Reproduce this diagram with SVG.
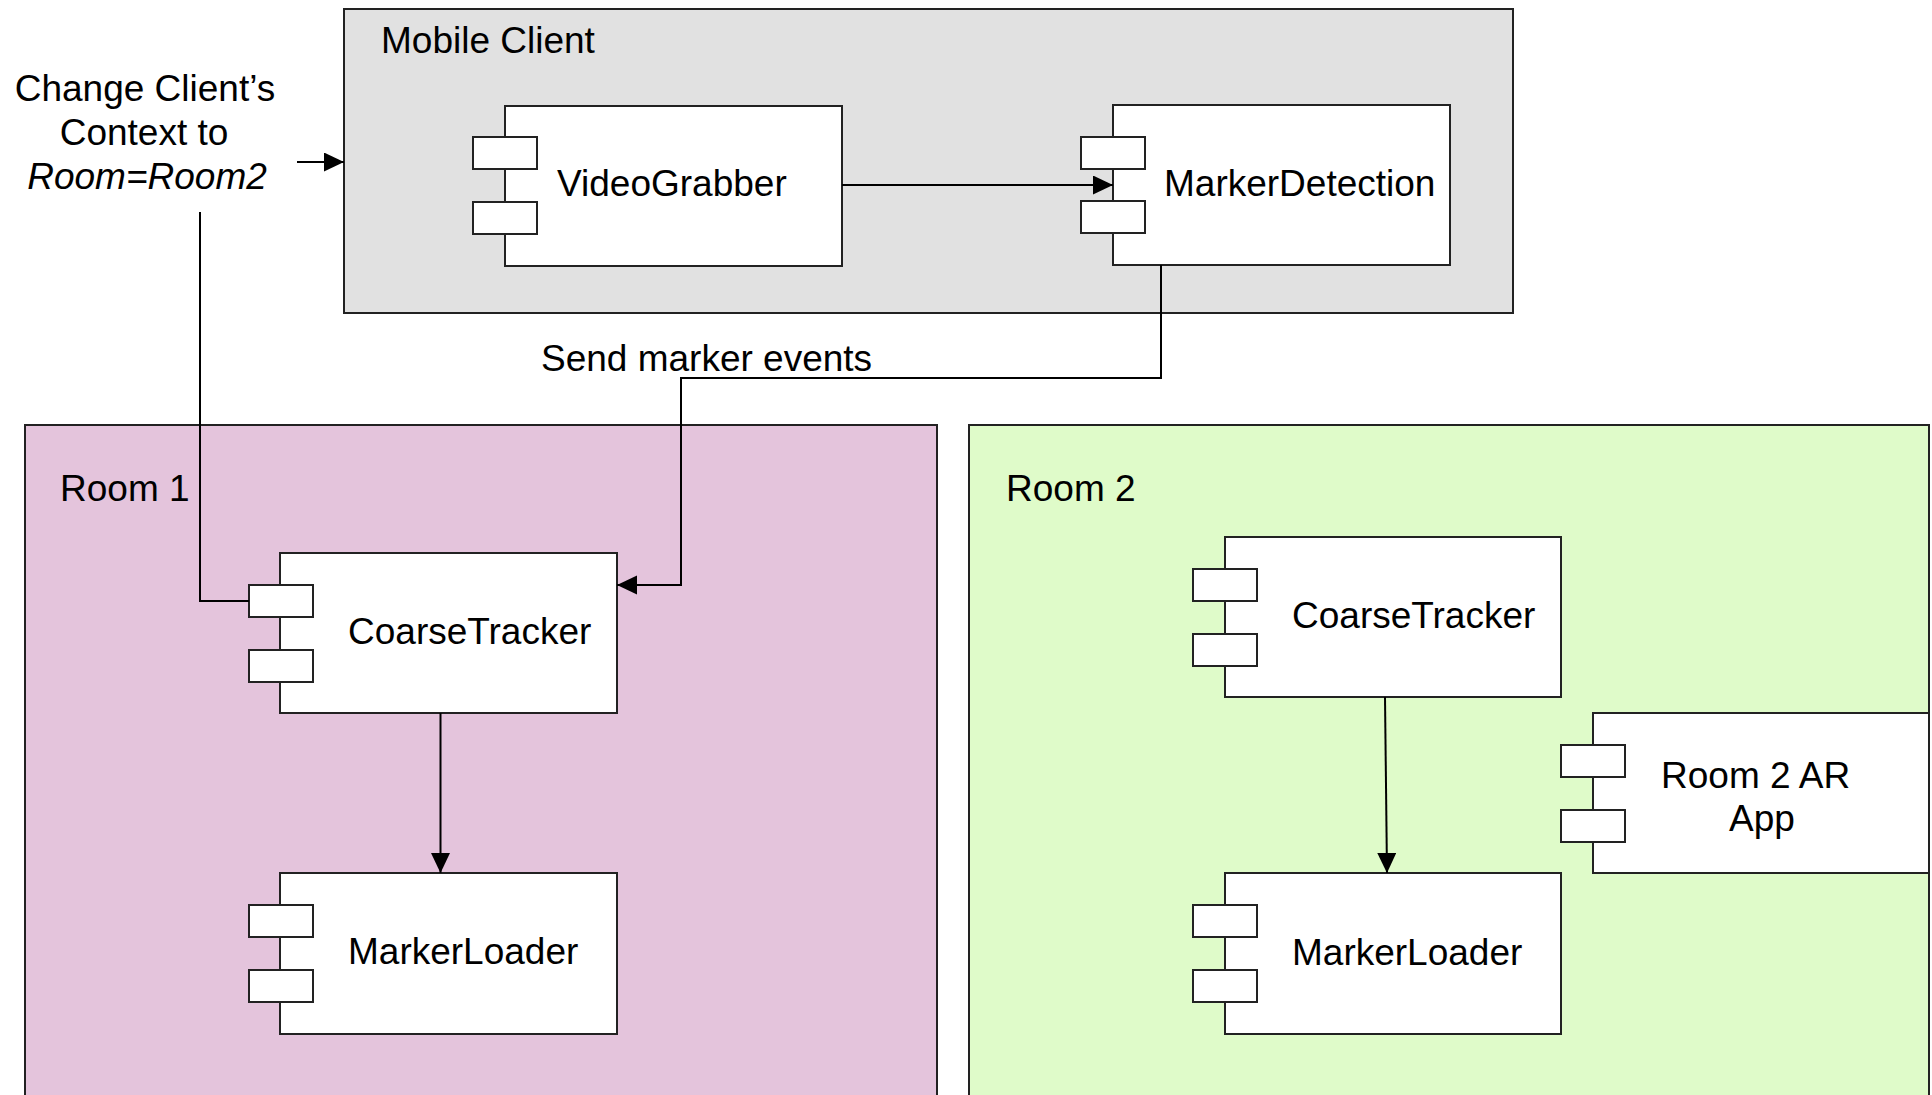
<svg xmlns="http://www.w3.org/2000/svg" width="1932" height="1095" viewBox="0 0 1932 1095">
<style>
  text { font-family: "Liberation Sans", Arial, Helvetica, sans-serif; font-size: 37px; fill: #000; }
  .it { font-style: italic; }
  .container { stroke: #222; stroke-width: 2; }
  .comp { fill: #fff; stroke: #222; stroke-width: 2; }
  .port { fill: #fff; stroke: #222; stroke-width: 2; }
  .conn { fill: none; stroke: #000; stroke-width: 2; }
</style>
<defs>
  <marker id="arrow" markerUnits="userSpaceOnUse" markerWidth="20" markerHeight="20" refX="20" refY="9.5" orient="auto">
    <path d="M0,0 L20,9.5 L0,19 z" fill="#000"/>
  </marker>
</defs>
<rect width="1932" height="1095" fill="#fff"/>

<g id="mobile-client">
  <rect class="container" x="344" y="9" width="1169" height="304" fill="#E1E1E1"/>
  <text x="381" y="53">Mobile Client</text>
</g>
<g id="room1">
  <rect class="container" x="25" y="425" width="912" height="720" fill="#E4C4DC"/>
  <text x="60" y="501">Room 1</text>
</g>
<g id="room2">
  <rect class="container" x="969" y="425" width="960" height="720" fill="#DFFBC9"/>
  <text x="1006" y="501">Room 2</text>
</g>

<g id="context-label">
  <text x="145" y="101" text-anchor="middle">Change Client’s</text>
  <text x="144" y="145" text-anchor="middle">Context to</text>
  <text class="it" x="147" y="189" text-anchor="middle">Room=Room2</text>
</g>

<g id="video-grabber">
  <rect class="comp" x="505" y="106" width="337" height="160"/>
  <rect class="port" x="473" y="137" width="64" height="32"/>
  <rect class="port" x="473" y="202" width="64" height="32"/>
  <text x="557" y="196">VideoGrabber</text>
</g>
<g id="marker-detection">
  <rect class="comp" x="1113" y="105" width="337" height="160"/>
  <rect class="port" x="1081" y="137" width="64" height="32"/>
  <rect class="port" x="1081" y="201" width="64" height="32"/>
  <text x="1164" y="196">MarkerDetection</text>
</g>
<g id="coarse-tracker-1">
  <rect class="comp" x="280" y="553" width="337" height="160"/>
  <rect class="port" x="249" y="585" width="64" height="32"/>
  <rect class="port" x="249" y="650" width="64" height="32"/>
  <text x="348" y="644">CoarseTracker</text>
</g>
<g id="marker-loader-1">
  <rect class="comp" x="280" y="873" width="337" height="161"/>
  <rect class="port" x="249" y="905" width="64" height="32"/>
  <rect class="port" x="249" y="970" width="64" height="32"/>
  <text x="348" y="964">MarkerLoader</text>
</g>
<g id="coarse-tracker-2">
  <rect class="comp" x="1225" y="537" width="336" height="160"/>
  <rect class="port" x="1193" y="569" width="64" height="32"/>
  <rect class="port" x="1193" y="634" width="64" height="32"/>
  <text x="1292" y="628">CoarseTracker</text>
</g>
<g id="marker-loader-2">
  <rect class="comp" x="1225" y="873" width="336" height="161"/>
  <rect class="port" x="1193" y="905" width="64" height="32"/>
  <rect class="port" x="1193" y="970" width="64" height="32"/>
  <text x="1292" y="965">MarkerLoader</text>
</g>
<g id="room2-ar-app">
  <rect class="comp" x="1593" y="713" width="336" height="160"/>
  <rect class="port" x="1561" y="745" width="64" height="32"/>
  <rect class="port" x="1561" y="810" width="64" height="32"/>
  <text x="1661" y="788">Room 2 AR</text>
  <text x="1729" y="831">App</text>
</g>

<g id="connectors">
  <path class="conn" d="M842,185 L1113,185" marker-end="url(#arrow)"/>
  <path class="conn" d="M297,162 L344,162" marker-end="url(#arrow)"/>
  <path class="conn" d="M200,212 L200,601 L249,601"/>
  <path class="conn" d="M1161,265 L1161,378 L681,378 L681,585 L617,585" marker-end="url(#arrow)"/>
  <path class="conn" d="M440.5,713 L440.5,873" marker-end="url(#arrow)"/>
  <path class="conn" d="M1385,697 L1387,873" marker-end="url(#arrow)"/>
  <text x="541" y="371">Send marker events</text>
</g>
</svg>
